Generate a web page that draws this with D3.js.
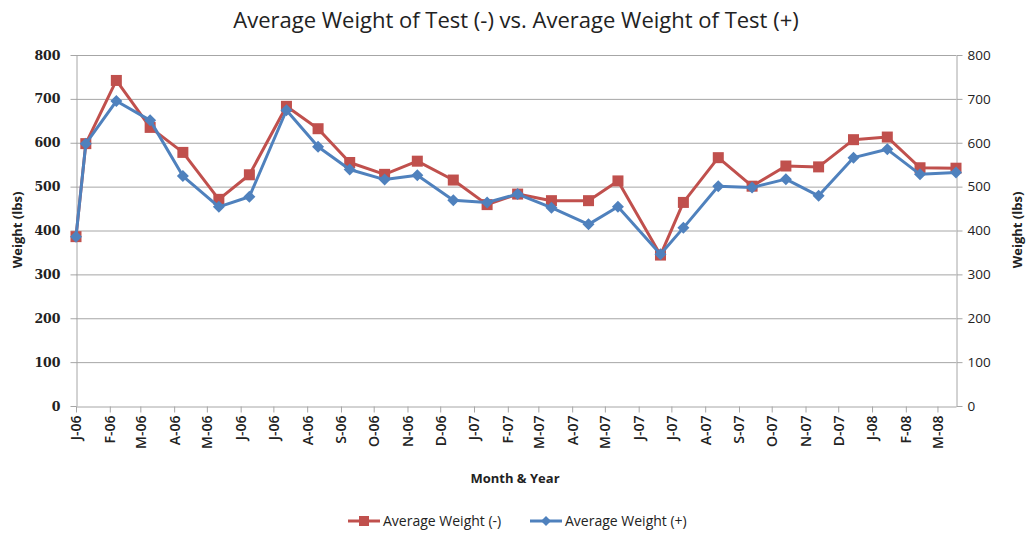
<!DOCTYPE html>
<html>
<head>
<meta charset="utf-8">
<script src="https://cdn.jsdelivr.net/npm/d3@7"></script>
<style>
  body { margin: 0; background: #fff; }
  svg { display: block; }
</style>
</head>
<body>
<svg id="chart" width="1029" height="533"></svg>
<script>
// sample dates (roughly mid-month readings)
const dates = [
  '2006-01-01', '2006-01-10', '2006-02-07', '2006-03-10', '2006-04-09', '2006-05-12',
  '2006-06-09', '2006-07-13', '2006-08-11', '2006-09-09', '2006-10-11', '2006-11-10',
  '2006-12-13', '2007-01-13', '2007-02-10', '2007-03-13', '2007-04-16', '2007-05-13',
  '2007-06-21', '2007-07-12', '2007-08-13', '2007-09-13', '2007-10-14', '2007-11-13',
  '2007-12-15', '2008-01-15', '2008-02-14', '2008-03-18'
];
const weightMinus = [386, 598, 742, 635, 578, 471, 527, 683, 632, 555, 528, 558, 515, 459,
  483, 468, 468, 513, 344, 464, 566, 501, 547, 545, 607, 613, 543, 542];
const weightPlus = [386, 598, 695, 651, 524, 454, 477, 674, 591, 539, 516, 526, 469, 464,
  483, 452, 414, 454, 346, 406, 501, 498, 517, 479, 566, 585, 528, 532];
const yTicks = [0, 100, 200, 300, 400, 500, 600, 700, 800];
const monthLetters = ['J', 'F', 'M', 'A', 'M', 'J', 'J', 'A', 'S', 'O', 'N', 'D'];

const parse = d3.timeParse('%Y-%m-%d');
const rows = dates.map((d, i) => ({ date: parse(d), minus: weightMinus[i], plus: weightPlus[i] }));

const svg = d3.select('#chart');
const plotLeft = 76, plotRight = 956, plotTop = 55, plotBottom = 406;

const x = d3.scaleTime()
  .domain(d3.extent(rows, d => d.date))
  .range([plotLeft, plotRight]);
const y = d3.scaleLinear().domain([0, 800]).range([plotBottom, plotTop]);

const red = '#C0504D', blue = '#4F81BD', gridCol = '#a6a6a6';

// gridlines
svg.append('g').selectAll('line')
  .data(yTicks.slice(1))
  .join('line')
  .attr('x1', plotLeft).attr('x2', plotRight)
  .attr('y1', d => y(d) + 0.5).attr('y2', d => y(d) + 0.5)
  .attr('stroke', gridCol).attr('stroke-width', 1);

// left axis
const yl = svg.append('g').attr('transform', `translate(${plotLeft + 0.5},0)`)
  .call(d3.axisLeft(y).tickValues(yTicks).tickSize(6).tickPadding(10).tickSizeOuter(0));
yl.selectAll('text').attr('font-family', '"DejaVu Serif", serif').attr('font-weight', 'bold')
  .attr('font-size', 12.5).attr('fill', '#222');

// right axis
const yr = svg.append('g').attr('transform', `translate(${plotRight + 0.5},0)`)
  .call(d3.axisRight(y).tickValues(yTicks).tickSize(6).tickPadding(5).tickSizeOuter(0));
yr.selectAll('text').attr('font-family', '"Open Sans", sans-serif')
  .attr('font-size', 13.5).attr('fill', '#222');

// bottom axis, one tick per month
const monthFmt = d => monthLetters[d.getMonth()] + '-' + d3.timeFormat('%y')(d);
const xa = svg.append('g').attr('transform', `translate(0,${plotBottom + 0.5})`)
  .call(d3.axisBottom(x).ticks(d3.timeMonth.every(1)).tickFormat(monthFmt).tickSize(6).tickSizeOuter(0));
xa.selectAll('text')
  .attr('font-family', '"Open Sans", sans-serif').attr('font-size', 14).attr('font-weight', 600)
  .attr('fill', '#222')
  .attr('x', 0).attr('y', 0)
  .attr('transform', 'translate(0,9) rotate(-90)')
  .attr('text-anchor', 'end')
  .attr('dy', '0.35em');

[yl, yr, xa].forEach(g => {
  g.select('.domain').attr('stroke', gridCol);
  g.selectAll('.tick line').attr('stroke', gridCol);
});

// lines
const lineMinus = d3.line().x(d => x(d.date)).y(d => y(d.minus));
const linePlus = d3.line().x(d => x(d.date)).y(d => y(d.plus));

svg.append('path').datum(rows).attr('d', lineMinus)
  .attr('fill', 'none').attr('stroke', red).attr('stroke-width', 3).attr('stroke-linejoin', 'round');
svg.append('g').selectAll('rect').data(rows).join('rect')
  .attr('x', d => x(d.date) - 5.5).attr('y', d => y(d.minus) - 5.5)
  .attr('width', 11).attr('height', 11).attr('fill', red);

svg.append('path').datum(rows).attr('d', linePlus)
  .attr('fill', 'none').attr('stroke', blue).attr('stroke-width', 3).attr('stroke-linejoin', 'round');
const diamond = 'M0,-6L6,0L0,6L-6,0Z';
svg.append('g').selectAll('path').data(rows).join('path')
  .attr('d', diamond)
  .attr('transform', d => `translate(${x(d.date)},${y(d.plus)})`)
  .attr('fill', blue);

// title and axis titles
svg.append('text').attr('x', 516).attr('y', 28).attr('text-anchor', 'middle')
  .attr('font-family', '"Open Sans", sans-serif').attr('font-size', 22).attr('fill', '#222')
  .text('Average Weight of Test (-) vs. Average Weight of Test (+)');

svg.append('text').attr('x', 515).attr('y', 483).attr('text-anchor', 'middle')
  .attr('font-family', '"Open Sans", sans-serif').attr('font-weight', 'bold').attr('font-size', 13)
  .attr('fill', '#222').text('Month & Year');

svg.append('text').attr('transform', 'translate(22,230) rotate(-90)').attr('text-anchor', 'middle')
  .attr('font-family', '"Open Sans", sans-serif').attr('font-weight', 'bold').attr('font-size', 13)
  .attr('fill', '#222').text('Weight (lbs)');
svg.append('text').attr('transform', 'translate(1022,230) rotate(-90)').attr('text-anchor', 'middle')
  .attr('font-family', '"Open Sans", sans-serif').attr('font-weight', 'bold').attr('font-size', 13)
  .attr('fill', '#222').text('Weight (lbs)');

// legend
const legend = [
  { label: 'Average Weight (-)', color: red, x0: 348, marker: 'square' },
  { label: 'Average Weight (+)', color: blue, x0: 530, marker: 'diamond' }
];
const ly = 521;
legend.forEach(l => {
  const g = svg.append('g');
  g.append('line').attr('x1', l.x0).attr('x2', l.x0 + 32).attr('y1', ly).attr('y2', ly)
    .attr('stroke', l.color).attr('stroke-width', 3);
  if (l.marker === 'square') {
    g.append('rect').attr('x', l.x0 + 11).attr('y', ly - 5).attr('width', 10).attr('height', 10).attr('fill', l.color);
  } else {
    g.append('path').attr('d', 'M0,-5L5,0L0,5L-5,0Z').attr('transform', `translate(${l.x0 + 16},${ly})`).attr('fill', l.color);
  }
  g.append('text').attr('x', l.x0 + 35).attr('y', ly + 5)
    .attr('font-family', '"Open Sans", sans-serif').attr('font-size', 14).attr('fill', '#222')
    .text(l.label);
});
</script>
</body>
</html>
